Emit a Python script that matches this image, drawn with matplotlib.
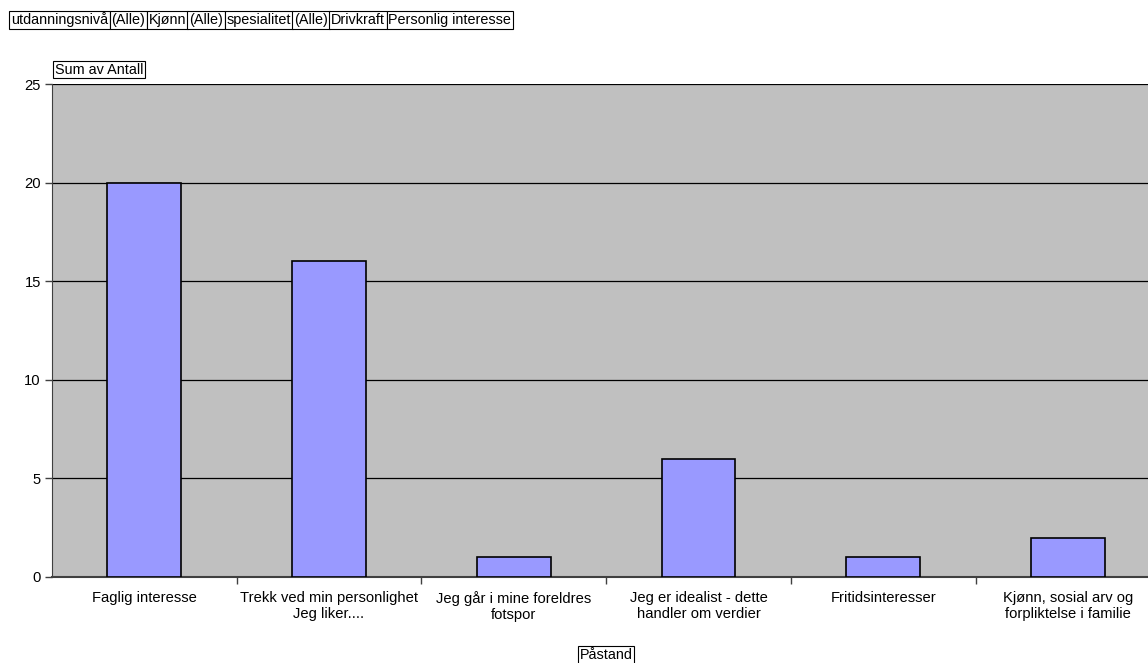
import matplotlib.pyplot as plt
import numpy as np

plt.rcParams['font.family'] = ['Liberation Sans', 'DejaVu Sans']

categories = [
    'Faglig interesse',
    'Trekk ved min personlighet\nJeg liker....',
    'Jeg går i mine foreldres\nfotspor',
    'Jeg er idealist - dette\nhandler om verdier',
    'Fritidsinteresser',
    'Kjønn, sosial arv og\nforpliktelse i familie',
]
antall = [20, 16, 1, 6, 1, 2]
y_ticks = [0, 5, 10, 15, 20, 25]

filters = ['utdanningsnivå', '(Alle)', 'Kjønn', '(Alle)', 'spesialitet',
           '(Alle)', 'Drivkraft', 'Personlig interesse']

W, H = 1148, 663
fig = plt.figure(figsize=(W / 100, H / 100), dpi=100)

# plot area runs past the right edge of the figure
left, bottom, top = 52, 577, 84
cat_w = 184.7
ax = fig.add_axes([left / W, (H - bottom) / H, 6 * cat_w / W, (bottom - top) / H])
ax.set_facecolor('#c0c0c0')

x = np.arange(len(categories))
ax.bar(x, antall, width=0.40, color='#9999ff', edgecolor='black', linewidth=1.2, zorder=3)

ax.set_xlim(-0.5, len(categories) - 0.5)
ax.set_ylim(0, 25)
ax.set_yticks(y_ticks)
ax.yaxis.grid(True, color='black', linewidth=0.9, zorder=0)
ax.set_axisbelow(True)

ax.set_xticks(x)
ax.set_xticklabels(categories, fontsize=10.6, linespacing=1.2)
ax.tick_params(axis='x', which='major', length=0, pad=10)
ax.set_xticks(np.arange(0.5, len(categories) - 0.5), minor=True)
ax.tick_params(axis='x', which='minor', length=5, width=1, color='#404040', direction='out')
ax.tick_params(axis='y', length=5, width=1, color='#404040', pad=3, labelsize=10.6)

for side in ['top', 'right']:
    ax.spines[side].set_visible(False)
ax.spines['left'].set_color('#404040')
ax.spines['bottom'].set_color('#404040')
ax.spines['bottom'].set_linewidth(1.5)

box = dict(boxstyle='square,pad=0.12', facecolor='white', edgecolor='black', linewidth=0.8)
fs_box = 10.4

# pivot field buttons across the top, each placed after the previous one
xpos = 11 / W
for f in filters:
    t = fig.text(xpos, 1 - 20 / H, f, fontsize=fs_box, va='center', ha='left', bbox=box)
    fig.canvas.draw()
    bb = t.get_bbox_patch().get_window_extent(fig.canvas.get_renderer())
    xpos = (bb.x1 + 1.5) / W

fig.text(55 / W, 1 - 69.5 / H, 'Sum av Antall', fontsize=fs_box, va='center', ha='left', bbox=box)
fig.text(606 / W, 1 - 655 / H, 'Påstand', fontsize=fs_box, va='center', ha='center', bbox=box)

fig.savefig('out.png', dpi=100)
